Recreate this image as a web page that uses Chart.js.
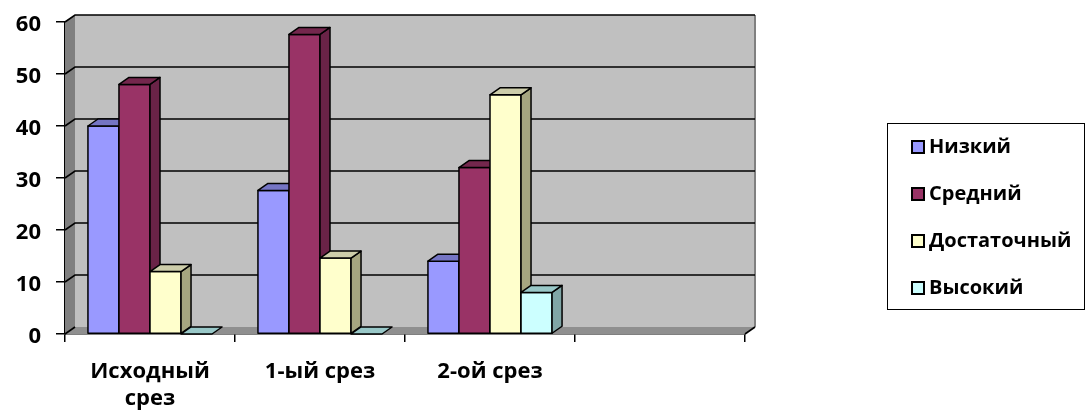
<!DOCTYPE html>
<html>
<head>
<meta charset="utf-8">
<script src="https://cdn.jsdelivr.net/npm/chart.js@4.4.1/dist/chart.umd.min.js"></script>
<style>
    html, body { margin: 0; padding: 0; background: #ffffff; }
    #wrap { width: 1085px; height: 414px; }
</style>
</head>
<body>
<div id="wrap"><canvas id="chart"></canvas></div>
<script>
// Данные диаграммы
const categories = [['Исходный', 'срез'], '1-ый срез', '2-ой срез', ''];
const seriesNames = ['Низкий', 'Средний', 'Достаточный', 'Высокий'];
const nizkiy = [40, 27.6, 14];
const sredniy = [48, 57.6, 32];
const dostatochnyy = [12, 14.6, 46];
const vysokiy = [0, 0, 8];
const yTicks = [0, 10, 20, 30, 40, 50, 60];

// Цвета: передняя грань, верх, бок
const faceColors = ['#9999FF', '#993366', '#FFFFCC', '#CCFFFF'];
const topColors = ['#7575C4', '#74274D', '#CDCDAA', '#99C8C8'];
const sideColors = ['#6B6BB3', '#6A2347', '#A6A680', '#80A6A6'];

const DX = 10, DY = 7;
const FONT = '"Open Sans", "DejaVu Sans", sans-serif';

function poly(ctx, pts, fill) {
    ctx.beginPath();
    ctx.moveTo(pts[0][0], pts[0][1]);
    for (let i = 1; i < pts.length; i++) ctx.lineTo(pts[i][0], pts[i][1]);
    ctx.closePath();
    if (fill) {
        ctx.fillStyle = fill;
        ctx.fill();
    }
}

// Стенки, пол, сетка и объёмные столбики
const walls3d = {
    id: 'walls3d',
    beforeDatasetsDraw(chart) {
        const ctx = chart.ctx;
        const a = chart.chartArea;
        const yScale = chart.scales.y;
        ctx.save();
        // задняя стенка
        ctx.fillStyle = '#C0C0C0';
        ctx.fillRect(a.left + DX, a.top - DY, a.right - a.left, a.bottom - a.top);
        // боковая стенка
        poly(ctx, [[a.left, a.top], [a.left + DX, a.top - DY], [a.left + DX, a.bottom - DY], [a.left, a.bottom]], '#808080');
        // пол
        poly(ctx, [[a.left, a.bottom], [a.left + DX, a.bottom - DY], [a.right + DX, a.bottom - DY], [a.right, a.bottom]], '#8F8F8F');
        // правый край задней стенки
        ctx.strokeStyle = '#808080';
        ctx.lineWidth = 2;
        ctx.beginPath();
        ctx.moveTo(a.right + DX, a.top - DY);
        ctx.lineTo(a.right + DX, a.bottom - DY);
        ctx.stroke();
        // линии сетки
        ctx.strokeStyle = '#000000';
        ctx.lineWidth = 1.6;
        yTicks.forEach(v => {
            const py = yScale.getPixelForValue(v);
            ctx.beginPath();
            ctx.moveTo(a.left, py);
            ctx.lineTo(a.left + DX, py - DY);
            if (v > 0) ctx.lineTo(a.right + DX, py - DY);
            ctx.stroke();
        });
        // передний правый край пола
        ctx.beginPath();
        ctx.moveTo(a.right, a.bottom);
        ctx.lineTo(a.right + DX, a.bottom - DY);
        ctx.stroke();
        ctx.restore();
    },
    // столбики рисуем сами, слева направо
    beforeDatasetDraw() {
        return false;
    },
    afterDatasetsDraw(chart) {
        const ctx = chart.ctx;
        ctx.save();
        ctx.strokeStyle = '#000000';
        ctx.lineWidth = 1.5;
        ctx.lineJoin = 'round';
        chart.data.datasets.forEach((ds, i) => {
            chart.getDatasetMeta(i).data.forEach(el => {
                const p = el.getProps(['x', 'y', 'base', 'width'], true);
                const l = p.x - p.width / 2, r = p.x + p.width / 2;
                const top = Math.min(p.y, p.base), bot = Math.max(p.y, p.base);
                if (bot - top > 0.5) {
                    poly(ctx, [[l, top], [r, top], [r, bot], [l, bot]], faceColors[i]);
                    ctx.stroke();
                    poly(ctx, [[r, top], [r + DX, top - DY], [r + DX, bot - DY], [r, bot]], sideColors[i]);
                    ctx.stroke();
                }
                poly(ctx, [[l, top], [l + DX, top - DY], [r + DX, top - DY], [r, top]], topColors[i]);
                ctx.stroke();
            });
        });
        ctx.restore();
    },
    // легенда в рамке
    afterDraw(chart) {
        const ctx = chart.ctx;
        ctx.save();
        ctx.strokeStyle = '#000000';
        ctx.lineWidth = 1;
        ctx.strokeRect(887.5, 123.5, 197, 186);
        ctx.font = 'bold 20px ' + FONT;
        ctx.textBaseline = 'middle';
        ctx.textAlign = 'left';
        chart.data.datasets.forEach((ds, k) => {
            const cy = 147 + k * 47;
            ctx.fillStyle = ds.backgroundColor;
            ctx.fillRect(912, cy - 6, 12, 12);
            ctx.lineWidth = 2;
            ctx.strokeRect(912, cy - 6, 12, 12);
            ctx.fillStyle = '#000000';
            ctx.fillText(ds.label, 929, cy);
        });
        ctx.restore();
    }
};

const seriesValues = [nizkiy, sredniy, dostatochnyy, vysokiy];

new Chart(document.getElementById('chart'), {
    type: 'bar',
    data: {
        labels: categories,
        datasets: seriesValues.map((vals, i) => ({
            label: seriesNames[i],
            data: vals,
            backgroundColor: faceColors[i],
            borderColor: '#000000',
            borderWidth: 1.5,
            borderSkipped: false,
            categoryPercentage: 0.73,
            barPercentage: 1
        }))
    },
    options: {
        responsive: true,
        maintainAspectRatio: false,
        animation: false,
        layout: {
            padding: { left: 0, right: 340, top: 22, bottom: 0 }
        },
        plugins: {
            legend: { display: false },
            tooltip: { enabled: false }
        },
        scales: {
            x: {
                afterFit: s => { s.height = 80; },
                grid: {
                    offset: true,
                    drawOnChartArea: false,
                    drawTicks: true,
                    tickLength: 8,
                    color: '#000000',
                    lineWidth: 1.5
                },
                border: { display: true, color: '#000000', width: 1.5 },
                ticks: {
                    color: '#000000',
                    padding: 17,
                    maxRotation: 0,
                    font: { family: FONT, size: 22, weight: 'bold', lineHeight: 1.2 }
                }
            },
            y: {
                min: 0,
                max: 60,
                afterFit: s => { s.width = 65; s.paddingTop = 0; s.paddingBottom = 0; },
                afterBuildTicks: s => { s.ticks = yTicks.map(v => ({ value: v })); },
                grid: {
                    drawOnChartArea: false,
                    drawTicks: true,
                    tickLength: 9,
                    color: '#000000',
                    lineWidth: 1.5
                },
                border: { display: true, color: '#000000', width: 1.5 },
                ticks: {
                    color: '#000000',
                    padding: 15,
                    labelOffset: 3,
                    font: { family: FONT, size: 22, weight: 'bold' }
                }
            }
        }
    },
    plugins: [walls3d]
});
</script>
</body>
</html>
